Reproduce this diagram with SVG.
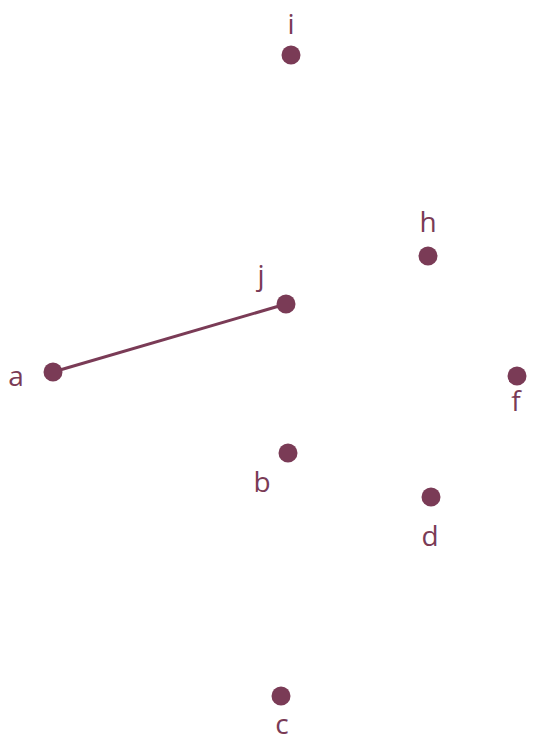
<svg xmlns="http://www.w3.org/2000/svg" width="550" height="742" viewBox="0 0 550 742">
<style>
.n{fill:#7a3b56}
.t{fill:#7a3b56;font-family:"Open Sans","Noto Sans",sans-serif;font-size:28px;text-anchor:middle}
.e{stroke:#7a3b56;stroke-width:3;fill:none}
</style>
<rect width="550" height="742" fill="#fff"/>
<g id="edges"><line class="e" x1="53" y1="372" x2="286" y2="304"/></g>
<g id="i"><circle class="n" cx="291" cy="55" r="9.5"/><text class="t" x="291" y="34">i</text></g>
<g id="h"><circle class="n" cx="428" cy="256" r="9.5"/><text class="t" x="428" y="232">h</text></g>
<g id="j"><circle class="n" cx="286" cy="304" r="9.5"/><text class="t" x="261" y="285">j</text></g>
<g id="a"><circle class="n" cx="53" cy="372" r="9.5"/><text class="t" x="16" y="386">a</text></g>
<g id="f"><circle class="n" cx="517" cy="376" r="9.5"/><text class="t" x="516" y="411">f</text></g>
<g id="b"><circle class="n" cx="288" cy="453" r="9.5"/><text class="t" x="262" y="492">b</text></g>
<g id="d"><circle class="n" cx="431" cy="497" r="9.5"/><text class="t" x="430" y="546">d</text></g>
<g id="c"><circle class="n" cx="281" cy="696" r="9.5"/><text class="t" x="282" y="734">c</text></g>
</svg>
